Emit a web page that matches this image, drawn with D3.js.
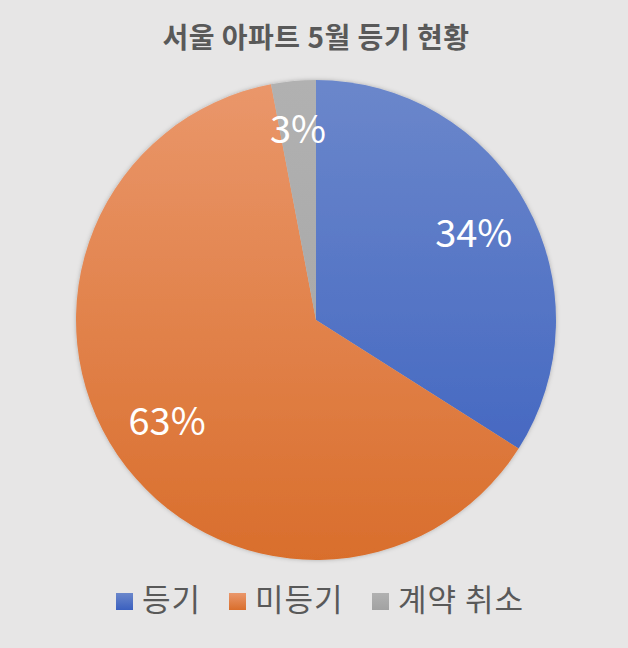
<!DOCTYPE html>
<html>
<head>
<meta charset="utf-8">
<script src="https://cdn.jsdelivr.net/npm/d3@7"></script>
<style>
  html, body { margin: 0; padding: 0; background: #e7e6e6; }
  svg { display: block; }
  text { font-family: "Noto Sans CJK KR", "Noto Sans", sans-serif; }
</style>
</head>
<body>
<svg id="chart" width="628" height="648"></svg>
<script>
var categories = ["등기", "미등기", "계약 취소"];
var values = [34, 63, 3];
var labels = ["34%", "63%", "3%"];
var colorTop = ["#6b87cb", "#ea976b", "#b1b1b1"];
var colorBottom = ["#3b60bf", "#d96e2c", "#a2a2a2"];

var cx = 316, cy = 320, radius = 240;

var svg = d3.select("#chart");
var defs = svg.append("defs");

// gradients in the pie group's local coords (centre = 0,0)
categories.forEach(function(c, i) {
  var g = defs.append("linearGradient")
      .attr("id", "grad" + i)
      .attr("gradientUnits", "userSpaceOnUse")
      .attr("x1", 0).attr("y1", -radius)
      .attr("x2", 0).attr("y2", radius);
  g.append("stop").attr("offset", "0%").attr("stop-color", colorTop[i]);
  g.append("stop").attr("offset", "100%").attr("stop-color", colorBottom[i]);

  var lg = defs.append("linearGradient")
      .attr("id", "lgrad" + i)
      .attr("x1", 0).attr("y1", 0).attr("x2", 0).attr("y2", 1);
  lg.append("stop").attr("offset", "0%").attr("stop-color", colorTop[i]);
  lg.append("stop").attr("offset", "100%").attr("stop-color", colorBottom[i]);
});

var shadow = defs.append("filter").attr("id", "shadow")
    .attr("x", "-10%").attr("y", "-10%").attr("width", "120%").attr("height", "120%");
shadow.append("feDropShadow")
    .attr("dx", 0).attr("dy", 0).attr("stdDeviation", 2)
    .attr("flood-color", "#000").attr("flood-opacity", 0.25);

// title
svg.append("text")
    .attr("x", cx)
    .attr("y", 48)
    .attr("text-anchor", "middle")
    .style("font-size", "28px")
    .style("font-weight", "bold")
    .style("letter-spacing", "0.5px")
    .style("fill", "#595959")
    .text("서울 아파트 5월 등기 현황");

var pie = d3.pie().sort(null).value(function(d) { return d; });
var arcs = pie(values);

var arc = d3.arc().innerRadius(0).outerRadius(radius);
var labelArc = d3.arc().innerRadius(radius * 0.75).outerRadius(radius * 0.75);
var smallLabelArc = d3.arc().innerRadius(radius * 0.8).outerRadius(radius * 0.8);

var pieG = svg.append("g")
    .attr("transform", "translate(" + cx + "," + cy + ")");

pieG.append("g")
    .attr("filter", "url(#shadow)")
    .selectAll("path")
    .data(arcs)
    .enter()
    .append("path")
    .attr("d", arc)
    .attr("fill", function(d, i) { return "url(#grad" + i + ")"; });

// labels
pieG.append("g")
    .selectAll("text")
    .data(arcs)
    .enter()
    .append("text")
    .attr("transform", function(d, i) {
      var p = (i === 2 ? smallLabelArc : labelArc).centroid(d);
      return "translate(" + p[0] + "," + p[1] + ")";
    })
    .attr("text-anchor", "middle")
    .attr("dy", "0.36em")
    .style("font-size", "38px")
    .style("fill", "#ffffff")
    .text(function(d, i) { return labels[i]; });

// legend
var legendX = [116, 229, 372];
var legend = svg.append("g");
categories.forEach(function(c, i) {
  legend.append("rect")
      .attr("x", legendX[i])
      .attr("y", 593)
      .attr("width", 17)
      .attr("height", 17)
      .attr("fill", "url(#lgrad" + i + ")");
  legend.append("text")
      .attr("x", legendX[i] + 26)
      .attr("y", 611)
      .style("font-size", "31px")
      .style("letter-spacing", "1px")
      .style("fill", "#595959")
      .text(c);
});
</script>
</body>
</html>
